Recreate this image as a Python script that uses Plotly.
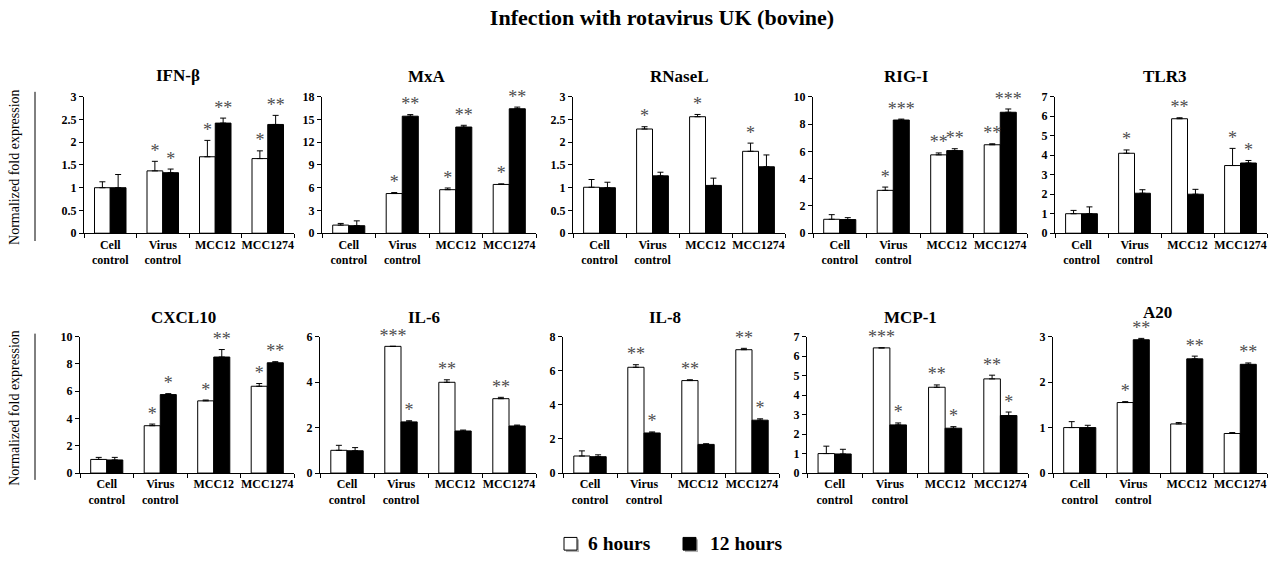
import plotly.graph_objects as go

W, H = 1275, 561

# ---------------- data ----------------
categories = ["Cell<br>control", "Virus<br>control", "MCC12", "MCC1274"]
genes = ["IFN-β", "MxA", "RNaseL", "RIG-I", "TLR3", "CXCL10", "IL-6", "IL-8", "MCP-1", "A20"]
legend_names = ["6 hours", "12 hours"]

ifnb_6h = [1.0, 1.37, 1.68, 1.64]
ifnb_6h_err = [0.13, 0.21, 0.36, 0.17]
ifnb_12h = [1.0, 1.33, 2.42, 2.39]
ifnb_12h_err = [0.29, 0.08, 0.11, 0.20]
ifnb_6h_sig = ["", "*", "*", "*"]
ifnb_12h_sig = ["", "*", "**", "**"]

mxa_6h = [1.07, 5.23, 5.74, 6.43]
mxa_6h_err = [0.22, 0.13, 0.22, 0.08]
mxa_12h = [0.99, 15.43, 14.0, 16.41]
mxa_12h_err = [0.64, 0.21, 0.23, 0.22]
mxa_6h_sig = ["", "*", "*", "*"]
mxa_12h_sig = ["", "**", "**", "**"]

rnasel_6h = [1.01, 2.29, 2.56, 1.80]
rnasel_6h_err = [0.17, 0.05, 0.05, 0.18]
rnasel_12h = [1.0, 1.26, 1.05, 1.46]
rnasel_12h_err = [0.12, 0.08, 0.16, 0.26]
rnasel_6h_sig = ["", "*", "*", "*"]
rnasel_12h_sig = ["", "", "", ""]

rigi_6h = [1.02, 3.14, 5.74, 6.48]
rigi_6h_err = [0.34, 0.24, 0.14, 0.07]
rigi_12h = [1.0, 8.29, 6.05, 8.86]
rigi_12h_err = [0.14, 0.07, 0.14, 0.24]
rigi_6h_sig = ["", "*", "**", "**"]
rigi_12h_sig = ["", "***", "**", "***"]

tlr3_6h = [1.0, 4.10, 5.87, 3.47]
tlr3_6h_err = [0.17, 0.17, 0.05, 0.88]
tlr3_12h = [1.0, 2.05, 2.0, 3.60]
tlr3_12h_err = [0.35, 0.18, 0.25, 0.13]
tlr3_6h_sig = ["", "*", "**", "*"]
tlr3_12h_sig = ["", "", "", "*"]

cxcl10_6h = [1.0, 3.47, 5.29, 6.36]
cxcl10_6h_err = [0.15, 0.12, 0.06, 0.20]
cxcl10_12h = [0.96, 5.75, 8.50, 8.08]
cxcl10_12h_err = [0.19, 0.07, 0.55, 0.08]
cxcl10_6h_sig = ["", "*", "*", "*"]
cxcl10_12h_sig = ["", "*", "**", "**"]

il6_6h = [1.0, 5.57, 3.99, 3.27]
il6_6h_err = [0.22, 0.0, 0.11, 0.06]
il6_12h = [0.98, 2.25, 1.85, 2.07]
il6_12h_err = [0.14, 0.05, 0.04, 0.04]
il6_6h_sig = ["", "***", "**", "**"]
il6_12h_sig = ["", "*", "", ""]

il8_6h = [1.0, 6.20, 5.42, 7.23]
il8_6h_err = [0.30, 0.15, 0.05, 0.08]
il8_12h = [0.96, 2.35, 1.68, 3.10]
il8_12h_err = [0.11, 0.06, 0.04, 0.08]
il8_6h_sig = ["", "**", "**", "**"]
il8_12h_sig = ["", "*", "", "*"]

mcp1_6h = [1.0, 6.42, 4.40, 4.83]
mcp1_6h_err = [0.38, 0.0, 0.12, 0.19]
mcp1_12h = [0.98, 2.47, 2.30, 2.95]
mcp1_12h_err = [0.24, 0.10, 0.08, 0.18]
mcp1_6h_sig = ["", "***", "**", "**"]
mcp1_12h_sig = ["", "*", "*", "*"]

a20_6h = [1.0, 1.55, 1.08, 0.87]
a20_6h_err = [0.13, 0.02, 0.03, 0.02]
a20_12h = [1.0, 2.93, 2.51, 2.39]
a20_12h_err = [0.05, 0.03, 0.06, 0.03]
a20_6h_sig = ["", "*", "", ""]
a20_12h_sig = ["", "**", "**", "**"]

y_max = [3, 18, 3, 10, 7, 10, 6, 8, 7, 3]
y_step = [0.5, 3, 0.5, 2, 1, 2, 2, 2, 1, 1]

series_6h = [ifnb_6h, mxa_6h, rnasel_6h, rigi_6h, tlr3_6h, cxcl10_6h, il6_6h, il8_6h, mcp1_6h, a20_6h]
errs_6h = [ifnb_6h_err, mxa_6h_err, rnasel_6h_err, rigi_6h_err, tlr3_6h_err,
           cxcl10_6h_err, il6_6h_err, il8_6h_err, mcp1_6h_err, a20_6h_err]
series_12h = [ifnb_12h, mxa_12h, rnasel_12h, rigi_12h, tlr3_12h, cxcl10_12h, il6_12h, il8_12h, mcp1_12h, a20_12h]
errs_12h = [ifnb_12h_err, mxa_12h_err, rnasel_12h_err, rigi_12h_err, tlr3_12h_err,
            cxcl10_12h_err, il6_12h_err, il8_12h_err, mcp1_12h_err, a20_12h_err]
sig_6h = [ifnb_6h_sig, mxa_6h_sig, rnasel_6h_sig, rigi_6h_sig, tlr3_6h_sig,
          cxcl10_6h_sig, il6_6h_sig, il8_6h_sig, mcp1_6h_sig, a20_6h_sig]
sig_12h = [ifnb_12h_sig, mxa_12h_sig, rnasel_12h_sig, rigi_12h_sig, tlr3_12h_sig,
           cxcl10_12h_sig, il6_12h_sig, il8_12h_sig, mcp1_12h_sig, a20_12h_sig]

# ---------------- layout geometry (pixels) ----------------
x_extents = [(84, 294), (322, 536), (573, 785), (813, 1027), (1055, 1267),
             (80, 294), (320, 536), (563, 779), (807, 1028), (1053, 1267)]
row_y = [(232, 92), (478, 338)]  # (zero line, top) in px
title_pos = [(178, 70), (427, 71), (679, 71), (906, 71), (1164, 71),
             (183, 318), (424, 318), (665, 318), (910, 318), (1157, 313)]

SERIF = "Liberation Serif"


def fx(px):
    return px / W


def fy(py):
    return 1 - py / H


fig = go.Figure()
xi = list(range(len(categories)))
BW = 0.30

layout_axes = {}
annotations = []
for k in range(10):
    n = k + 1
    xa = "x" if n == 1 else f"x{n}"
    ya = "y" if n == 1 else f"y{n}"
    fig.add_trace(go.Bar(
        x=xi, y=series_6h[k], width=BW, offset=-BW, xaxis=xa, yaxis=ya,
        name=legend_names[0], showlegend=False,
        marker=dict(color="white", line=dict(color="black", width=1)),
        error_y=dict(type="data", symmetric=False, array=errs_6h[k],
                     arrayminus=[0] * 4, color="black", thickness=1, width=3),
    ))
    fig.add_trace(go.Bar(
        x=xi, y=series_12h[k], width=BW, offset=0, xaxis=xa, yaxis=ya,
        name=legend_names[1], showlegend=False,
        marker=dict(color="black", line=dict(color="black", width=1)),
        error_y=dict(type="data", symmetric=False, array=errs_12h[k],
                     arrayminus=[0] * 4, color="black", thickness=1, width=3),
    ))
    fig.add_trace(go.Scatter(
        x=[i - BW / 2 for i in xi] + [i + BW / 2 for i in xi],
        y=[v + e for v, e in zip(series_6h[k], errs_6h[k])] +
          [v + e for v, e in zip(series_12h[k], errs_12h[k])],
        text=sig_6h[k] + sig_12h[k],
        mode="text", textposition="top center", xaxis=xa, yaxis=ya,
        textfont=dict(family=SERIF, size=18, color="#4d4d4d"),
        showlegend=False, hoverinfo="skip", cliponaxis=False,
    ))

    x0, x1 = x_extents[k]
    zero, top = row_y[0] if k < 5 else row_y[1]
    xkey = "xaxis" if n == 1 else f"xaxis{n}"
    ykey = "yaxis" if n == 1 else f"yaxis{n}"
    layout_axes[xkey] = dict(
        domain=[fx(x0), fx(x1)], anchor=ya, range=[-0.5, 3.5],
        tickmode="array", tickvals=xi, ticktext=[f"<b>{c}</b>" for c in categories],
        ticks="", showline=True, linecolor="black", linewidth=1,
        showgrid=False, zeroline=False,
        tickfont=dict(family=SERIF, size=12, color="black"),
        minor=dict(tickmode="linear", tick0=-0.5, dtick=1, ticks="outside",
                   ticklen=4, tickcolor="black", showgrid=False),
        fixedrange=True,
    )
    layout_axes[ykey] = dict(
        domain=[fy(zero), fy(top)], anchor=xa, range=[0, y_max[k]],
        tickmode="linear", tick0=0, dtick=y_step[k],
        ticks="outside", ticklen=4, tickcolor="black",
        showline=True, linecolor="black", linewidth=1,
        showgrid=False, zeroline=False,
        tickfont=dict(family=SERIF, size=12, color="black", weight="bold"),
        fixedrange=True,
    )
    tx, ty = title_pos[k]
    annotations.append(dict(
        text=f"<b>{genes[k]}</b>", x=fx(tx), y=fy(ty), xref="paper", yref="paper",
        xanchor="center", yanchor="middle", showarrow=False,
        font=dict(family=SERIF, size=17, color="black"),
    ))

for cy in (164, 411):
    annotations.append(dict(
        text="Normalized fold expression", x=fx(15), y=fy(cy), xref="paper", yref="paper",
        xanchor="center", yanchor="middle", showarrow=False, textangle=-90,
        font=dict(family=SERIF, size=14, color="black"),
    ))

# legend drawn as boxes + labels
annotations.append(dict(text=f"<b>{legend_names[0]}</b>", x=fx(586), y=fy(550), xref="paper", yref="paper",
                        xanchor="left", yanchor="middle", showarrow=False,
                        font=dict(family=SERIF, size=19.5, color="black")))
annotations.append(dict(text=f"<b>{legend_names[1]}</b>", x=fx(708), y=fy(550), xref="paper", yref="paper",
                        xanchor="left", yanchor="middle", showarrow=False,
                        font=dict(family=SERIF, size=19.5, color="black")))

shapes = [
    dict(type="line", xref="paper", yref="paper", x0=fx(35), x1=fx(35),
         y0=fy(87), y1=fy(240), line=dict(color="black", width=1)),
    dict(type="line", xref="paper", yref="paper", x0=fx(35), x1=fx(35),
         y0=fy(335), y1=fy(485), line=dict(color="black", width=1)),
    # legend key shadows
    dict(type="rect", xref="paper", yref="paper", x0=fx(566), x1=fx(579),
         y0=fy(559), y1=fy(546), fillcolor="#b0b0b0", line=dict(width=0)),
    dict(type="rect", xref="paper", yref="paper", x0=fx(685), x1=fx(698),
         y0=fy(559), y1=fy(546), fillcolor="#b0b0b0", line=dict(width=0)),
    # legend keys
    dict(type="rect", xref="paper", yref="paper", x0=fx(564), x1=fx(577),
         y0=fy(557), y1=fy(544), fillcolor="white", line=dict(color="black", width=1)),
    dict(type="rect", xref="paper", yref="paper", x0=fx(683), x1=fx(696),
         y0=fy(557), y1=fy(544), fillcolor="black", line=dict(color="black", width=1)),
]

fig.update_layout(
    width=W, height=H,
    margin=dict(l=0, r=0, t=0, b=0),
    paper_bgcolor="white", plot_bgcolor="white",
    barmode="overlay",
    showlegend=False,
    title=dict(text="<b>Infection with rotavirus UK (bovine)</b>", x=fx(662), y=fy(17),
               xanchor="center", yanchor="middle",
               font=dict(family=SERIF, size=22, color="black")),
    annotations=annotations,
    shapes=shapes,
    **layout_axes,
)

post = (
    "document.documentElement.style.margin='0';"
    "document.documentElement.style.padding='0';"
    "document.documentElement.style.overflow='hidden';"
    "document.body.style.margin='0';"
    "document.body.style.padding='0';"
    "document.body.style.overflow='hidden';"
    "var gd=document.getElementById('{plot_id}');"
    "gd.style.display='block';"
    "gd.parentElement.style.height='561px';"
    "gd.parentElement.style.overflow='hidden';"
    "gd.parentElement.style.lineHeight='0';"
)

fig.write_html("out.html", config={"displayModeBar": False}, post_script=post)
